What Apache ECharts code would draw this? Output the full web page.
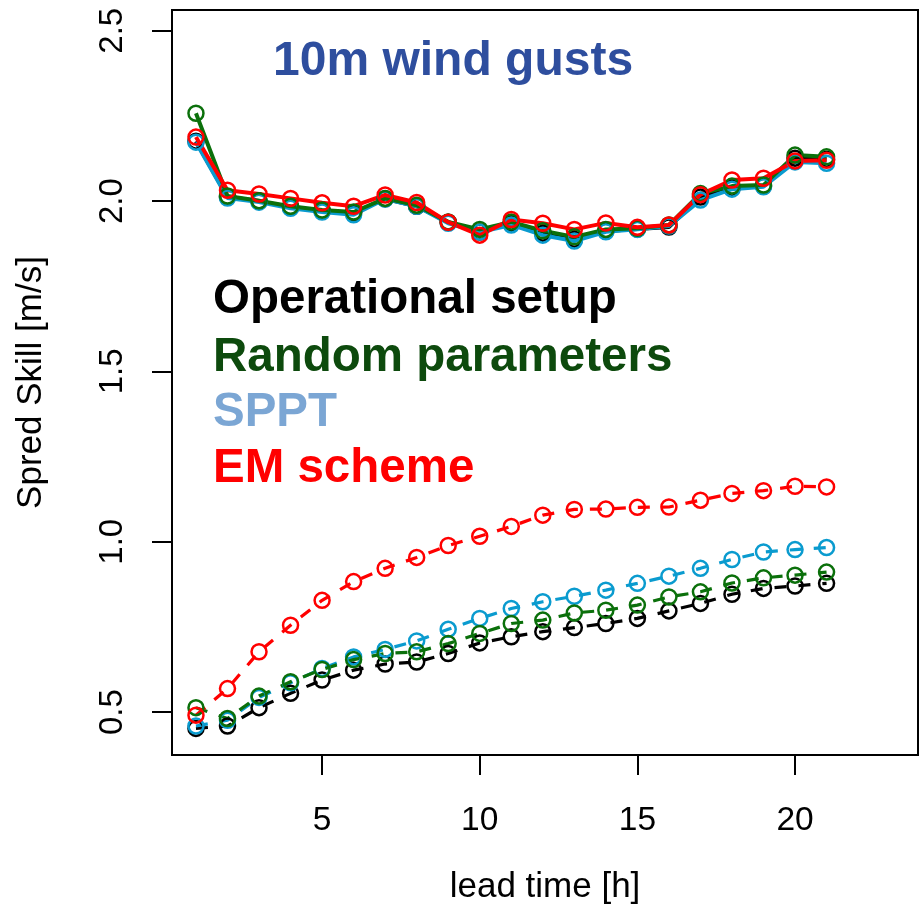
<!DOCTYPE html>
<html>
<head>
<meta charset="utf-8">
<script src="https://cdn.jsdelivr.net/npm/echarts@6/dist/echarts.min.js"></script>
<style>html,body{margin:0;padding:0;background:#fff}#c{width:921px;height:922px}</style>
</head>
<body>
<div id="c"></div>
<script>
const leadTime = [1,2,3,4,5,6,7,8,9,10,11,12,13,14,15,16,17,18,19,20,21];
const xTicks = [5,10,15,20];
const yTicks = [0.5,1.0,1.5,2.0,2.5];

const opUpper   = [2.176,2.012,2.000,1.982,1.971,1.965,2.007,1.985,1.938,1.909,1.935,1.906,1.888,1.912,1.918,1.924,2.012,2.038,2.044,2.126,2.123];
const rpUpper   = [2.258,2.015,2.001,1.985,1.974,1.968,2.008,1.988,1.939,1.917,1.939,1.913,1.895,1.917,1.920,1.930,2.022,2.044,2.047,2.135,2.130];
const spptUpper = [2.173,2.009,1.997,1.979,1.968,1.960,2.006,1.985,1.935,1.909,1.930,1.900,1.883,1.910,1.917,1.927,2.003,2.035,2.042,2.115,2.111];
const emUpper   = [2.188,2.032,2.021,2.008,1.995,1.985,2.018,1.996,1.938,1.900,1.946,1.935,1.917,1.936,1.923,1.930,2.019,2.062,2.067,2.118,2.120];

const opLower   = [0.452,0.459,0.513,0.555,0.594,0.623,0.641,0.647,0.672,0.703,0.721,0.736,0.748,0.760,0.775,0.797,0.819,0.846,0.863,0.870,0.878];
const rpLower   = [0.513,0.481,0.547,0.589,0.625,0.654,0.672,0.677,0.701,0.731,0.760,0.770,0.791,0.799,0.814,0.838,0.853,0.879,0.894,0.902,0.911];
const spptLower = [0.459,0.476,0.543,0.586,0.628,0.662,0.684,0.709,0.743,0.775,0.804,0.824,0.840,0.858,0.878,0.899,0.922,0.948,0.970,0.977,0.983];
const emLower   = [0.491,0.569,0.677,0.755,0.828,0.883,0.922,0.954,0.989,1.016,1.045,1.078,1.095,1.096,1.101,1.102,1.122,1.142,1.150,1.163,1.161];

const legendNames = ['Operational setup','Random parameters','SPPT','EM scheme'];
const titleText = '10m wind gusts';

const lineCols = ['#000000','#0B700B','#0A9BCF','#FF0000'];
const textCols = ['#000000','#0D4A0D','#7BA6D4','#FF0000'];

function pair(vals){ return leadTime.map((x,i)=>[x, vals[i]]); }

function mk(vals, col, dashed){
  return {
    type:'line', data: pair(vals), symbol:'circle', symbolSize:15,
    itemStyle:{color:'rgba(0,0,0,0)', borderColor:col, borderWidth:2.5},
    lineStyle:{color:col, width: dashed?3.2:4, type: dashed?[12,12]:'solid'},
    emphasis:{disabled:true}, animation:false, z:2
  };
}

const upper = [opUpper, spptUpper, rpUpper, emUpper];
const lower = [opLower, spptLower, rpLower, emLower];
const colIdx = [0,2,1,3];
const series = [];
upper.forEach((v,k)=>series.push(mk(v, lineCols[colIdx[k]], false)));
lower.forEach((v,k)=>series.push(mk(v, lineCols[colIdx[k]], true)));

const FONT = '"Liberation Sans", Arial, sans-serif';
const legendY = [300, 358, 413, 469];
const graphics = [{type:'text', x:273, y:62, silent:true,
  style:{text:titleText, font:'bold 48px '+FONT, fill:'#2E4E9E', verticalAlign:'middle'}}];
legendNames.forEach((n,i)=>graphics.push({
  type:'text', x:213, y:legendY[i], silent:true,
  style:{text:n, font:'bold 47.5px '+FONT, fill:textCols[i], verticalAlign:'middle'}
}));

const chart = echarts.init(document.getElementById('c'), null, {renderer:'canvas'});
chart.setOption({
  animation:false,
  backgroundColor:'#fff',
  grid:{left:172, right:3, top:10, bottom:167, show:true, borderColor:'#000', borderWidth:2, backgroundColor:'transparent'},
  xAxis:{
    type:'value', min:0.24, max:23.9,
    name:'lead time [h]', nameLocation:'middle', nameGap:115,
    nameTextStyle:{fontSize:35, color:'#000', fontFamily:FONT},
    axisLine:{show:false},
    splitLine:{show:false},
    axisTick:{show:true, length:20, lineStyle:{color:'#000', width:2}, customValues:xTicks},
    axisLabel:{fontSize:33.5, color:'#000', fontFamily:FONT, margin:49, customValues:xTicks}
  },
  yAxis:{
    type:'value', min:0.374, max:2.561,
    name:'Spred Skill [m/s]', nameLocation:'middle', nameGap:123, nameRotate:90,
    nameTextStyle:{fontSize:35, color:'#000', fontFamily:FONT},
    axisLine:{show:false},
    splitLine:{show:false},
    axisTick:{show:true, length:20, lineStyle:{color:'#000', width:2}, customValues:yTicks},
    axisLabel:{fontSize:33, color:'#000', fontFamily:FONT, margin:43, rotate:90, customValues:yTicks,
      formatter:v=>v.toFixed(1)}
  },
  graphic:graphics,
  series:series
});
</script>
</body>
</html>
